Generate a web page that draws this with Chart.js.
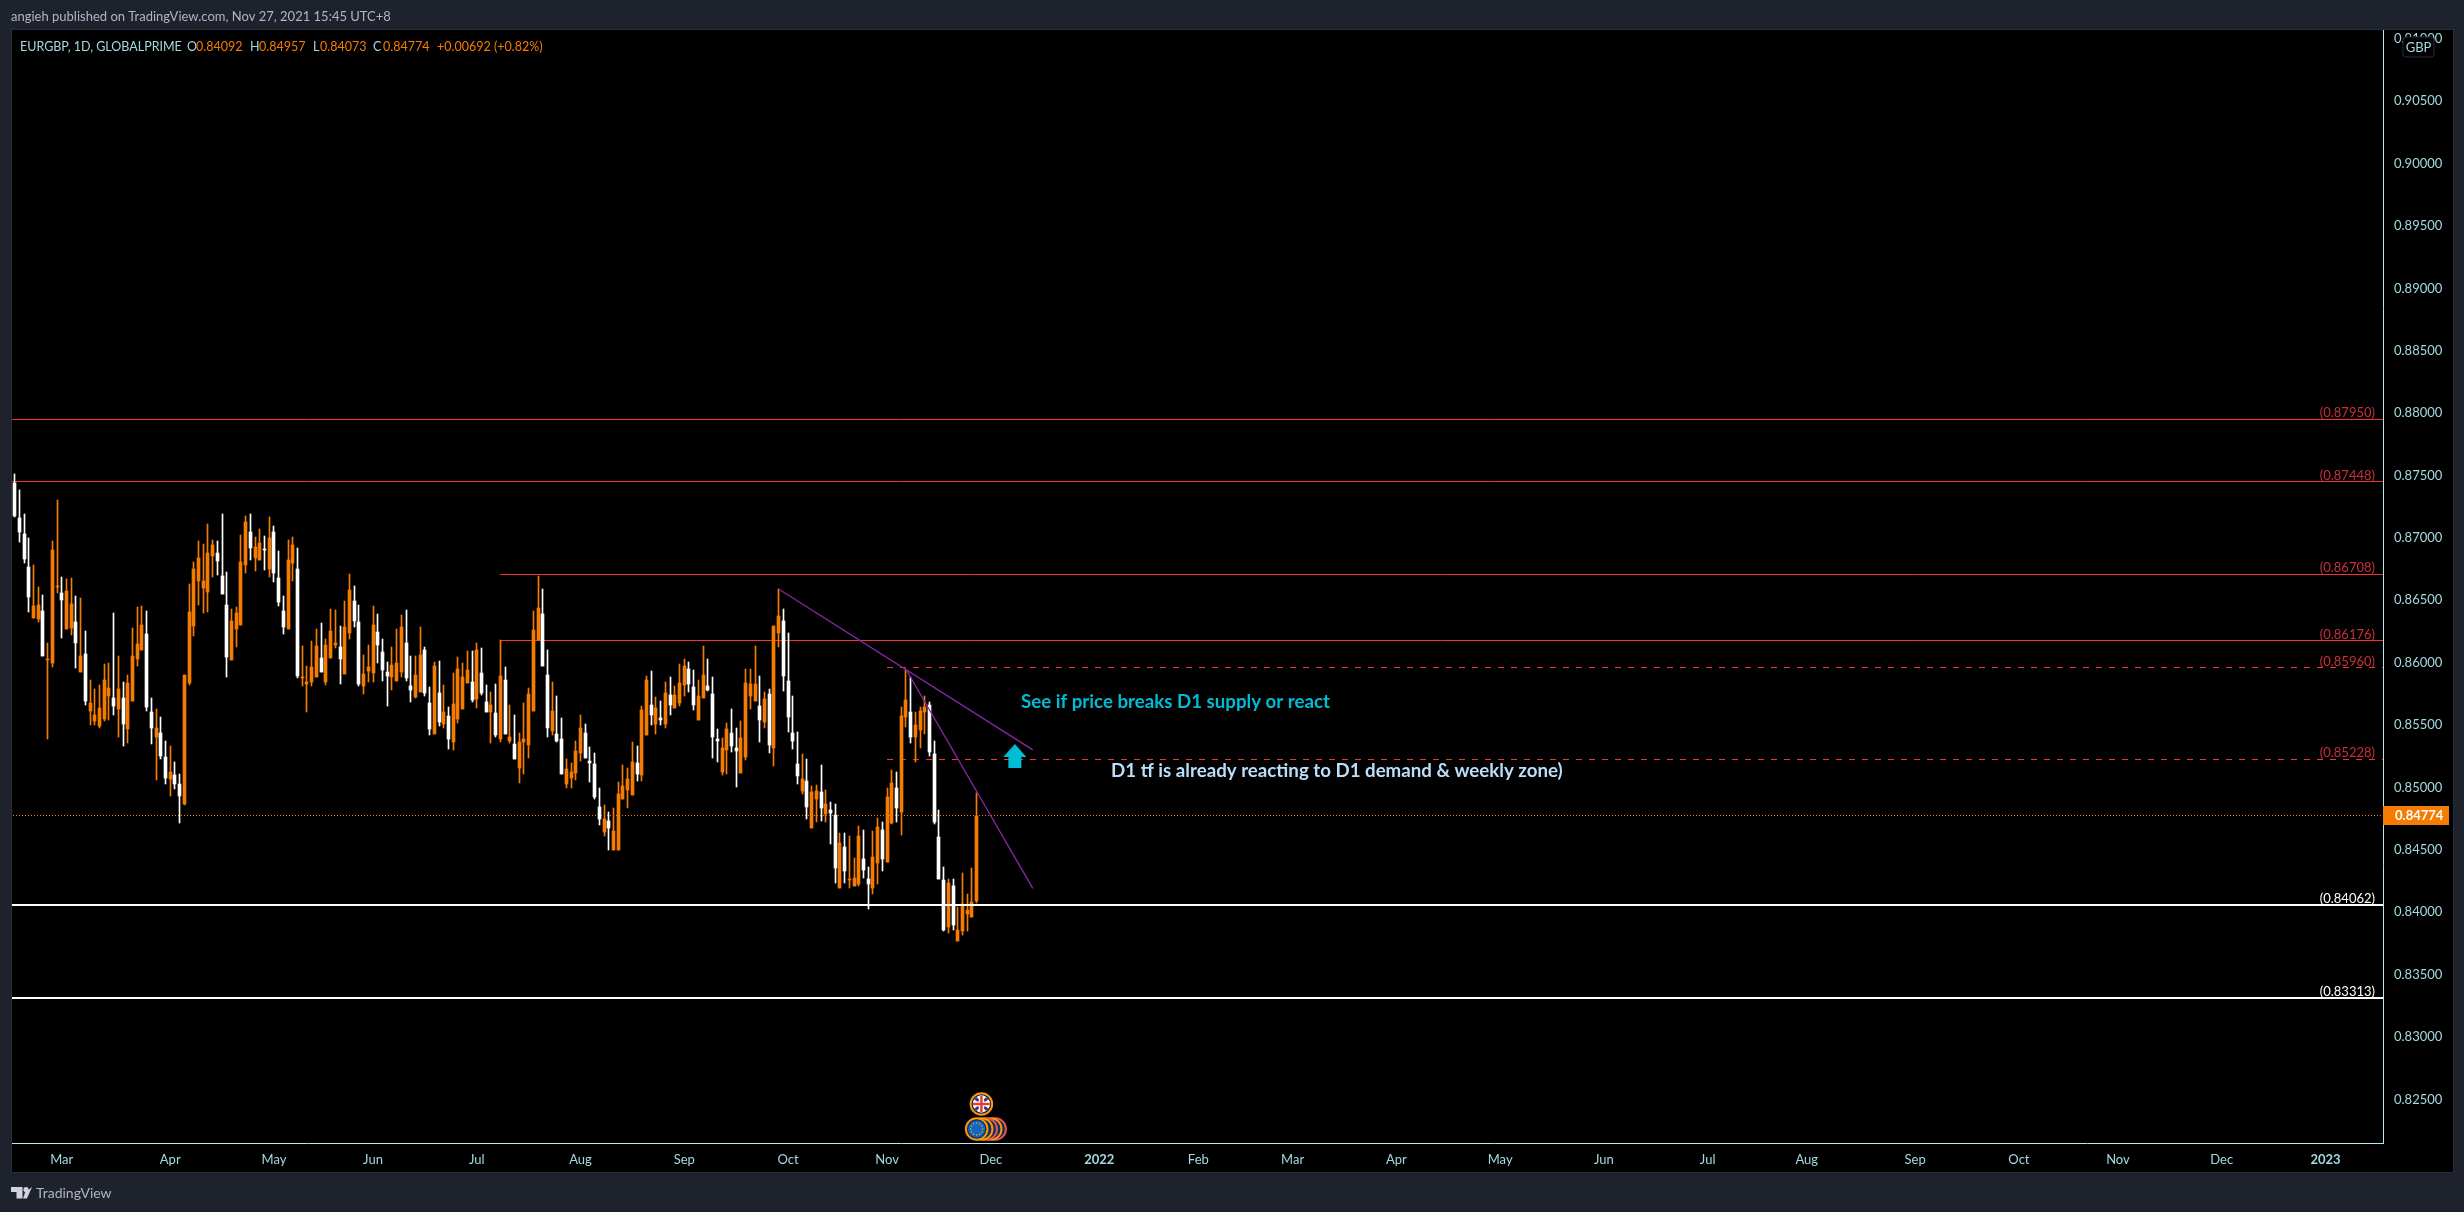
<!DOCTYPE html>
<html>
<head>
<meta charset="utf-8">
<title>EURGBP 1D</title>
<script src="https://cdn.jsdelivr.net/npm/chart.js@4"></script>
<style>
  html, body { margin: 0; padding: 0; background: #1e222d; }
  canvas { display: block; }
</style>
</head>
<body>
<canvas id="chart" width="2464" height="1212"></canvas>
<script>
// daily candles, oldest first
const highs = [
  0.87513,0.87384,0.87192,0.87000,0.86783,0.86607,0.86543,0.86158,0.86976,0.87304,
  0.86687,0.86671,0.86679,0.86535,0.86519,0.86255,0.85862,0.85790,0.85822,0.85990,
  0.85998,0.86399,0.86054,0.85846,0.85902,0.86279,0.86447,0.86455,0.86415,0.85718,
  0.85630,0.85565,0.85373,0.85333,0.85205,0.85109,0.85902,0.86631,0.86807,0.86976,
  0.86952,0.87112,0.86984,0.86976,0.87192,0.86727,0.86431,0.86447,0.87024,0.87176,
  0.87192,0.87008,0.87072,0.87016,0.87168,0.87096,0.86896,0.86535,0.86984,0.87008,
  0.86920,0.86134,0.85974,0.86174,0.86271,0.86319,0.86190,0.86431,0.86423,0.86295,
  0.86495,0.86711,0.86615,0.86463,0.86062,0.86142,0.86455,0.86391,0.86190,0.86006,
  0.86126,0.86271,0.86383,0.86423,0.86054,0.86054,0.86286,0.86126,0.85805,0.86005,
  0.86013,0.85821,0.85645,0.85917,0.86045,0.85997,0.86094,0.86094,0.86158,0.86118,
  0.85821,0.85765,0.85829,0.86182,0.85965,0.85661,0.85581,0.85437,0.85677,0.85797,
  0.86414,0.86695,0.86590,0.86102,0.85845,0.85733,0.85557,0.85228,0.85196,0.85372,
  0.85581,0.85509,0.85324,0.85276,0.84996,0.84860,0.84803,0.84836,0.85044,0.85180,
  0.85156,0.85364,0.85332,0.85653,0.85893,0.85933,0.85725,0.85693,0.85845,0.85885,
  0.85813,0.85989,0.86029,0.86005,0.85941,0.85861,0.86134,0.86029,0.85885,0.85469,
  0.85396,0.85517,0.85629,0.85477,0.85533,0.85949,0.85949,0.86134,0.85893,0.85765,
  0.85789,0.86294,0.86590,0.86430,0.86238,0.85733,0.85445,0.85268,0.85228,0.85012,
  0.85020,0.85180,0.84980,0.84884,0.84868,0.84635,0.84635,0.84611,0.84435,0.84692,
  0.84659,0.84363,0.84651,0.84756,0.84724,0.84996,0.85140,0.85124,0.85645,0.85942,
  0.85885,0.85605,0.85645,0.85733,0.85685,0.85373,0.84820,0.84363,0.84267,0.84267,
  0.84042,0.84315,0.84147,0.84355,0.84957
];
const lows = [
  0.87171,0.86970,0.86802,0.86407,0.86359,0.86327,0.86054,0.85389,0.85966,0.86559,
  0.86198,0.86271,0.86222,0.85958,0.85926,0.85662,0.85501,0.85501,0.85477,0.85533,
  0.85541,0.85581,0.85405,0.85333,0.85357,0.85694,0.85974,0.86102,0.85613,0.85349,
  0.85061,0.85229,0.85029,0.84932,0.84988,0.84716,0.84860,0.85822,0.86214,0.86463,
  0.86399,0.86407,0.86687,0.86703,0.86551,0.85886,0.86022,0.86126,0.86303,0.86719,
  0.86823,0.86735,0.86823,0.86743,0.86687,0.86647,0.86455,0.86230,0.86271,0.86655,
  0.85878,0.85814,0.85605,0.85814,0.85886,0.85926,0.85822,0.86038,0.86118,0.85830,
  0.85910,0.86190,0.86287,0.85814,0.85750,0.85846,0.85846,0.85998,0.85854,0.85654,
  0.85782,0.85854,0.85886,0.85854,0.85686,0.85718,0.85765,0.85733,0.85420,0.85428,
  0.85493,0.85477,0.85308,0.85300,0.85517,0.85629,0.85837,0.85685,0.85637,0.85741,
  0.85605,0.85356,0.85404,0.85364,0.85428,0.85356,0.85228,0.85036,0.85108,0.85236,
  0.85613,0.86182,0.85973,0.85404,0.85420,0.85364,0.85108,0.84996,0.84996,0.85060,
  0.85212,0.85236,0.85044,0.84908,0.84699,0.84611,0.84499,0.84499,0.84499,0.84908,
  0.84836,0.84940,0.85052,0.85052,0.85420,0.85501,0.85428,0.85501,0.85477,0.85581,
  0.85637,0.85653,0.85733,0.85765,0.85621,0.85541,0.85717,0.85773,0.85236,0.85204,
  0.85100,0.85108,0.85284,0.85004,0.85116,0.85220,0.85629,0.85693,0.85364,0.85477,
  0.85276,0.85172,0.86126,0.85773,0.85445,0.85308,0.85028,0.84948,0.84748,0.84676,
  0.84724,0.84732,0.84724,0.84547,0.84235,0.84195,0.84235,0.84195,0.84211,0.84211,
  0.84275,0.84026,0.84147,0.84227,0.84331,0.84403,0.84708,0.84724,0.84619,0.85485,
  0.85357,0.85204,0.85317,0.85429,0.85252,0.84708,0.84267,0.83850,0.83834,0.83858,
  0.83770,0.83818,0.83850,0.83962,0.84073
];
const opens = [
  0.87438,0.87160,0.87032,0.86767,0.86359,0.86348,0.86415,0.86022,0.85998,0.86607,
  0.86559,0.86271,0.86279,0.86327,0.85926,0.86070,0.85613,0.85533,0.85493,0.85549,
  0.85734,0.85718,0.85630,0.85718,0.85469,0.85694,0.86030,0.86102,0.86230,0.85605,
  0.85405,0.85437,0.85245,0.85069,0.85101,0.85029,0.84868,0.85838,0.86295,0.86655,
  0.86599,0.86567,0.86855,0.86880,0.86695,0.86463,0.86022,0.86271,0.86303,0.86783,
  0.87048,0.86839,0.86823,0.86912,0.86751,0.87048,0.86679,0.86415,0.86271,0.86799,
  0.86751,0.85878,0.85830,0.85846,0.85886,0.86038,0.85846,0.86038,0.86142,0.86126,
  0.85910,0.86239,0.86495,0.86327,0.85814,0.85934,0.85918,0.86247,0.86086,0.85926,
  0.85886,0.85854,0.85926,0.86158,0.85814,0.85726,0.85765,0.86102,0.85677,0.85428,
  0.85757,0.85509,0.85573,0.85364,0.85549,0.85629,0.85837,0.85845,0.85709,0.85917,
  0.85685,0.85605,0.85597,0.85388,0.85861,0.85372,0.85348,0.85156,0.85364,0.85340,
  0.85613,0.86182,0.86390,0.85901,0.85453,0.85428,0.85388,0.85028,0.85076,0.85116,
  0.85276,0.85437,0.85212,0.85188,0.84844,0.84643,0.84731,0.84499,0.84499,0.84908,
  0.84980,0.84940,0.85196,0.85100,0.85420,0.85661,0.85509,0.85557,0.85509,0.85741,
  0.85637,0.85677,0.85821,0.85949,0.85805,0.85541,0.85717,0.85813,0.85749,0.85388,
  0.85124,0.85300,0.85437,0.85316,0.85116,0.85244,0.85733,0.85693,0.85653,0.85525,
  0.85749,0.85316,0.86238,0.86334,0.85853,0.85437,0.85188,0.84972,0.85052,0.84676,
  0.84908,0.84964,0.84788,0.84820,0.84780,0.84195,0.84523,0.84259,0.84211,0.84227,
  0.84427,0.84267,0.84195,0.84395,0.84659,0.84403,0.84716,0.84996,0.84804,0.85565,
  0.85605,0.85405,0.85461,0.85605,0.85661,0.85268,0.84603,0.84259,0.83882,0.84211,
  0.83770,0.83850,0.83986,0.83962,0.84092
];
const closes = [
  0.87176,0.87048,0.86831,0.86527,0.86455,0.86463,0.86054,0.86030,0.86904,0.86615,
  0.86503,0.86575,0.86471,0.86158,0.86054,0.85694,0.85678,0.85581,0.85638,0.85862,
  0.85798,0.85654,0.85790,0.85509,0.85838,0.86054,0.86150,0.86303,0.85646,0.85477,
  0.85477,0.85253,0.85077,0.85125,0.85029,0.84932,0.85902,0.86407,0.86751,0.86839,
  0.86655,0.86880,0.86944,0.86815,0.86551,0.86046,0.86335,0.86399,0.86807,0.87128,
  0.86920,0.86928,0.86960,0.86904,0.87000,0.86719,0.86487,0.86287,0.86823,0.86944,
  0.85894,0.85886,0.85846,0.85966,0.86134,0.85926,0.86142,0.86255,0.86158,0.86030,
  0.86287,0.86583,0.86335,0.85830,0.85910,0.85966,0.86303,0.86142,0.85942,0.85894,
  0.85982,0.85998,0.86287,0.85878,0.85782,0.85902,0.86062,0.85757,0.85469,0.85973,
  0.85525,0.85605,0.85388,0.85669,0.85949,0.85885,0.85941,0.85701,0.86102,0.85757,
  0.85605,0.85661,0.85420,0.85893,0.85428,0.85404,0.85228,0.85364,0.85388,0.85749,
  0.86262,0.86438,0.85973,0.85477,0.85613,0.85372,0.85108,0.85148,0.85124,0.85292,
  0.85477,0.85236,0.85196,0.84924,0.84747,0.84747,0.84675,0.84651,0.84948,0.85012,
  0.85068,0.85204,0.85108,0.85621,0.85861,0.85581,0.85637,0.85541,0.85757,0.85661,
  0.85741,0.85837,0.85973,0.85829,0.85661,0.85733,0.85901,0.85781,0.85404,0.85372,
  0.85316,0.85469,0.85332,0.85292,0.85396,0.85837,0.85829,0.85829,0.85541,0.85709,
  0.85340,0.86294,0.86374,0.85893,0.85565,0.85372,0.85092,0.85068,0.84844,0.84964,
  0.84972,0.84836,0.84868,0.84796,0.84355,0.84555,0.84331,0.84267,0.84275,0.84611,
  0.84339,0.84227,0.84443,0.84684,0.84427,0.84924,0.85036,0.84836,0.85573,0.85701,
  0.85405,0.85501,0.85613,0.85645,0.85285,0.84724,0.84267,0.83858,0.84235,0.83898,
  0.83858,0.84067,0.84018,0.84083,0.84774
];

// axis ticks, x values are bar numbers
const xTickBars = [10,33,55,76,98,120,142,164,185,207,230,251,271,293,315,337,359,380,403,425,446,468,490];
const xTickLabels = ['Mar','Apr','May','Jun','Jul','Aug','Sep','Oct','Nov','Dec','2022','Feb','Mar','Apr','May','Jun','Jul','Aug','Sep','Oct','Nov','Dec','2023'];
const yTickValues = [0.825,0.83,0.835,0.84,0.845,0.85,0.855,0.86,0.865,0.87,0.875,0.88,0.885,0.89,0.895,0.90,0.905,0.91];

// horizontal levels drawn on the chart
const levelPrices = [0.87950,0.87448,0.86708,0.86176,0.85960,0.85228,0.84062,0.83313];
const levelStartBars = [-1,-1,103,103,185,185,-1,-1];
const levelColors = ['#f7333a','#f7333a','#f7333a','#f7333a','#f7333a','#f7333a','#ffffff','#ffffff'];
const levelWidths = [1,1,1,1,1,1,2,2];
const levelDashed = [false,false,false,false,true,true,false,false];

// purple trend lines [startBar, endBar], [startPrice, endPrice]
const trendBars = [[162,215.9],[189,215.9]];
const trendPrices = [[0.86591,0.85301],[0.85947,0.84192]];

const lastPrice = 0.84774;
const arrowBar = 212.1;
const arrowTipPrice = 0.85349;
const noteTexts = ['See if price breaks D1 supply or react','D1 tf is already reacting to D1 demand & weekly zone)'];
const noteBars = [213.4,232.5];
const notePrices = [0.85686,0.85130];

const ORANGE = '#f57c00';
const TEAL = '#a3d9e0';
const FONT = 'Lato, sans-serif';

const bars = closes.map((c, i) => i);
const candleColors = bars.map(i => closes[i] >= opens[i] ? ORANGE : '#ffffff');
const LAST_BAR = 502.2;

const datasets = [];
datasets.push({
  type: 'line', data: [{x: -1, y: lastPrice}, {x: LAST_BAR, y: lastPrice}],
  borderColor: ORANGE, borderWidth: 1, borderDash: [1, 2], pointRadius: 0, order: 5
});
datasets.push({
  type: 'bar', data: bars.map(i => ({x: i, y: [lows[i], highs[i]]})),
  backgroundColor: candleColors, barThickness: 1, grouped: false, order: 4
});
datasets.push({
  type: 'bar', data: bars.map(i => ({x: i, y: [opens[i], closes[i]]})),
  backgroundColor: candleColors, barThickness: 3, grouped: false, order: 3
});
// red levels sit behind the candles, the white ones cross over them
levelPrices.forEach((p, k) => {
  datasets.push({
    type: 'line', data: [{x: levelStartBars[k], y: p}, {x: LAST_BAR, y: p}],
    borderColor: levelColors[k], borderWidth: levelWidths[k],
    borderDash: levelDashed[k] ? [6, 7] : [], pointRadius: 0,
    order: levelColors[k] === '#ffffff' ? 2 : 6
  });
});
trendBars.forEach((b, k) => {
  datasets.push({
    type: 'line', data: [{x: b[0], y: trendPrices[k][0]}, {x: b[1], y: trendPrices[k][1]}],
    borderColor: '#8e24aa', borderWidth: 1.3, pointRadius: 0, order: 1
  });
});

// keeps candles and flat lines on whole pixels like the original
const snapPlugin = {
  id: 'snap',
  beforeDatasetsDraw(chart) {
    chart.getSortedVisibleDatasetMetas().forEach(meta => {
      if (meta.type === 'bar') {
        meta.data.forEach(el => {
          el.x = Math.floor(el.x) + 0.5;
          el.y = Math.round(el.y);
          el.base = Math.round(el.base);
        });
      } else if (meta.data[0].y === meta.data[1].y) {
        const w = chart.data.datasets[meta.index].borderWidth;
        const y = w === 2 ? Math.round(meta.data[0].y) : Math.floor(meta.data[0].y) + 0.5;
        meta.data.forEach(el => { el.y = y; el.x = Math.round(el.x); });
      }
    });
  }
};

// frame, black panel
const framePlugin = {
  id: 'frame',
  beforeDraw(chart) {
    const ctx = chart.ctx, a = chart.chartArea, sy = chart.scales.y, sx = chart.scales.x;
    ctx.save();
    ctx.fillStyle = '#1e222d';
    ctx.fillRect(0, 0, chart.width, chart.height);
    ctx.fillStyle = '#000000';
    ctx.fillRect(a.left, a.top, sy.right - a.left, sx.bottom - a.top);
    ctx.strokeStyle = '#2a2e39';
    ctx.lineWidth = 1;
    ctx.strokeRect(a.left - 0.5, a.top - 0.5, sy.right - a.left + 1, sx.bottom - a.top + 1);
    ctx.restore();
  }
};

function drawText(ctx, text, x, y, color, font, align) {
  ctx.fillStyle = color;
  ctx.font = font;
  ctx.textAlign = align || 'left';
  ctx.textBaseline = 'middle';
  ctx.fillText(text, x, y);
}

function drawFlagDisc(ctx, x, y, ring) {
  ctx.beginPath();
  ctx.arc(x, y, 10.8, 0, Math.PI * 2);
  ctx.fillStyle = '#0d2f66';
  ctx.fill();
  ctx.lineWidth = 2;
  ctx.strokeStyle = ring;
  ctx.stroke();
}

// text, arrow, event icons on top of the marks
const overlayPlugin = {
  id: 'overlay',
  afterDatasetsDraw(chart) {
    const ctx = chart.ctx, sx = chart.scales.x, sy = chart.scales.y;
    ctx.save();

    // level labels
    const labelRight = chart.chartArea.right - 8;
    levelPrices.forEach((p, k) => {
      const white = levelColors[k] === '#ffffff';
      drawText(ctx, '(' + p.toFixed(5) + ')', labelRight, Math.round(sy.getPixelForValue(p)) - (white ? 6 : 6.5),
        white ? '#ffffff' : '#c9303a', '13px ' + FONT, 'right');
    });

    // arrow
    const ax = sx.getPixelForValue(arrowBar), ay = sy.getPixelForValue(arrowTipPrice);
    ctx.beginPath();
    ctx.moveTo(ax, ay);
    ctx.lineTo(ax + 11.5, ay + 13);
    ctx.lineTo(ax + 6.5, ay + 13);
    ctx.lineTo(ax + 6.5, ay + 24);
    ctx.lineTo(ax - 6.5, ay + 24);
    ctx.lineTo(ax - 6.5, ay + 13);
    ctx.lineTo(ax - 11.5, ay + 13);
    ctx.closePath();
    ctx.fillStyle = '#00bcd4';
    ctx.fill();

    // notes
    drawText(ctx, noteTexts[0], sx.getPixelForValue(noteBars[0]), sy.getPixelForValue(notePrices[0]), '#00bcd4', '700 18.7px ' + FONT);
    drawText(ctx, noteTexts[1], sx.getPixelForValue(noteBars[1]), sy.getPixelForValue(notePrices[1]), '#bbdefb', '700 18.7px ' + FONT);

    // event icons, back ones first
    const bottom = sx.top;
    const euX = sx.getPixelForValue(204), euY = bottom - 14;
    [[18.5, '#ef5350'], [14, '#ff9800'], [9.5, '#ef5350'], [5, '#ff9800']].forEach(d => drawFlagDisc(ctx, euX + d[0], euY, d[1]));
    drawFlagDisc(ctx, euX, euY, '#ff9800');
    ctx.fillStyle = '#1565c0';
    ctx.beginPath();
    ctx.arc(euX, euY, 8.5, 0, Math.PI * 2);
    ctx.fill();
    ctx.fillStyle = '#ffc107';
    for (let s = 0; s < 12; s++) {
      const t = s * Math.PI / 6;
      ctx.fillRect(euX + Math.cos(t) * 6 - 0.6, euY + Math.sin(t) * 6 - 0.6, 1.2, 1.2);
    }
    const ukX = sx.getPixelForValue(205), ukY = bottom - 39;
    drawFlagDisc(ctx, ukX, ukY, '#ff9800');
    ctx.save();
    ctx.beginPath();
    ctx.arc(ukX, ukY, 8.5, 0, Math.PI * 2);
    ctx.clip();
    ctx.fillStyle = '#ffffff';
    ctx.fillRect(ukX - 9, ukY - 9, 18, 18);
    ctx.strokeStyle = '#0d2f66';
    ctx.lineWidth = 3;
    [[-9, -9, -2, -2], [9, -9, 2, -2], [-9, 9, -2, 2], [9, 9, 2, 2]].forEach(l => {
      ctx.beginPath();
      ctx.moveTo(ukX + l[0], ukY + l[1]);
      ctx.lineTo(ukX + l[2], ukY + l[3]);
      ctx.stroke();
    });
    ctx.strokeStyle = '#e53935';
    ctx.lineWidth = 1;
    [[-9, -9, 9, 9], [9, -9, -9, 9]].forEach(l => {
      ctx.beginPath();
      ctx.moveTo(ukX + l[0], ukY + l[1]);
      ctx.lineTo(ukX + l[2], ukY + l[3]);
      ctx.stroke();
    });
    ctx.fillStyle = '#ffffff';
    ctx.fillRect(ukX - 9, ukY - 2.5, 18, 5);
    ctx.fillRect(ukX - 2.5, ukY - 9, 5, 18);
    ctx.fillStyle = '#e53935';
    ctx.fillRect(ukX - 9, ukY - 1.2, 18, 2.4);
    ctx.fillRect(ukX - 1.2, ukY - 9, 2.4, 18);
    ctx.restore();
    ctx.restore();
  },
  afterDraw(chart) {
    const ctx = chart.ctx, a = chart.chartArea, sy = chart.scales.y, sx = chart.scales.x;
    ctx.save();

    // last price badge
    const py = Math.round(sy.getPixelForValue(lastPrice));
    ctx.fillStyle = ORANGE;
    ctx.fillRect(sy.left, py - 10, 66, 19);
    drawText(ctx, lastPrice.toFixed(5), sy.left + 12, py, '#ffffff', '700 13px ' + FONT);

    // currency tag over the top tick
    ctx.beginPath();
    ctx.roundRect(sy.left + 20, a.top + 7, 31, 20, 3);
    ctx.fillStyle = '#000000';
    ctx.fill();
    ctx.strokeStyle = '#2a2e39';
    ctx.lineWidth = 1;
    ctx.stroke();
    drawText(ctx, 'GBP', sy.left + 35.5, a.top + 17.5, TEAL, '13px ' + FONT, 'center');

    // header
    drawText(ctx, 'angieh published on TradingView.com, Nov 27, 2021 15:45 UTC+8', 11, 17, '#b2b5be', '13px ' + FONT);

    // legend row
    const legendY = a.top + 16.5;
    const legendFont = '12.5px ' + FONT;
    drawText(ctx, 'EURGBP, 1D, GLOBALPRIME', 20, legendY, TEAL, legendFont);
    [['O', 187, '0.84092', 196], ['H', 250, '0.84957', 259], ['L', 313, '0.84073', 320], ['C', 373, '0.84774', 383]].forEach(r => {
      drawText(ctx, r[0], r[1], legendY, TEAL, legendFont);
      drawText(ctx, r[2], r[3], legendY, ORANGE, legendFont);
    });
    drawText(ctx, '+0.00692', 437, legendY, ORANGE, legendFont);
    drawText(ctx, '(+0.82%)', 494, legendY, ORANGE, legendFont);

    // TradingView mark
    const by = sx.bottom + 15;
    ctx.fillStyle = '#d1d4dc';
    ctx.beginPath();
    ctx.moveTo(11, by);
    ctx.lineTo(22.5, by);
    ctx.lineTo(22.5, by + 11.5);
    ctx.lineTo(16.5, by + 11.5);
    ctx.lineTo(16.5, by + 5);
    ctx.lineTo(11, by + 5);
    ctx.closePath();
    ctx.fill();
    ctx.beginPath();
    ctx.arc(26, by + 2.6, 2.6, 0, Math.PI * 2);
    ctx.fill();
    ctx.beginPath();
    ctx.moveTo(27, by + 11.5);
    ctx.lineTo(32, by);
    ctx.lineTo(25, by + 5.5);
    ctx.lineTo(23, by + 11.5);
    ctx.closePath();
    ctx.fill();
    drawText(ctx, 'TradingView', 36, by + 6, '#b2b5be', '14px ' + FONT);
    ctx.restore();
  }
};

new Chart(document.getElementById('chart'), {
  type: 'bar',
  data: {datasets: datasets},
  plugins: [framePlugin, snapPlugin, overlayPlugin],
  options: {
    responsive: false,
    devicePixelRatio: 1,
    animation: false,
    layout: {padding: {left: 12, top: 30, right: 11, bottom: 40}},
    plugins: {legend: {display: false}, tooltip: {enabled: false}},
    scales: {
      x: {
        type: 'linear',
        offset: false,
        min: -0.551,
        max: LAST_BAR,
        afterFit: s => { s.height = 29; },
        afterBuildTicks: s => { s.ticks = xTickBars.map(v => ({value: v})); },
        grid: {display: false, drawTicks: false, offset: false},
        border: {display: true, color: '#b2ebf2', width: 1},
        ticks: {
          autoSkip: false, maxRotation: 0, padding: 9, color: TEAL,
          font: ctx => ({family: FONT, size: 13, weight: /^20/.test(xTickLabels[ctx.index]) ? '700' : '400'}),
          callback: (v, i) => xTickLabels[i]
        }
      },
      y: {
        position: 'right',
        min: 0.82151,
        max: 0.9107,
        afterFit: s => { s.width = 70; },
        afterBuildTicks: s => { s.ticks = yTickValues.map(v => ({value: v})); },
        grid: {display: false, drawTicks: false},
        border: {display: true, color: '#b2ebf2', width: 1},
        ticks: {
          padding: 11, color: TEAL, font: {family: FONT, size: 13},
          callback: v => v.toFixed(5)
        }
      }
    }
  }
});
</script>
</body>
</html>
